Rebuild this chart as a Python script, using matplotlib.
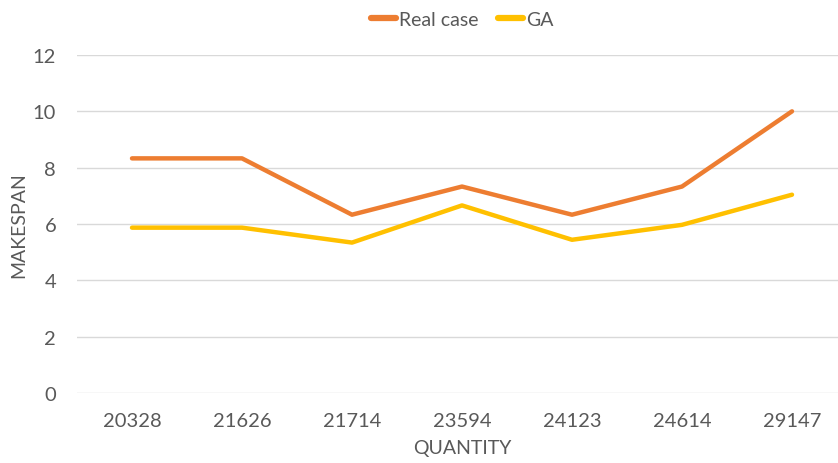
import matplotlib.pyplot as plt

quantity = ['20328', '21626', '21714', '23594', '24123', '24614', '29147']
real_case = [8.33, 8.33, 6.33, 7.33, 6.33, 7.33, 10.0]
ga = [5.87, 5.87, 5.34, 6.66, 5.44, 5.97, 7.04]

plt.rcParams['font.family'] = ['Lato', 'DejaVu Sans']

fig = plt.figure(figsize=(8.38, 4.64), dpi=100)
ax = fig.add_axes([77 / 838, 1 - 394 / 464, 770 / 838, 338 / 464])

x = range(len(quantity))
ax.plot(x, real_case, color='#ED7D31', linewidth=3.2, label='Real case', solid_capstyle='round')
ax.plot(x, ga, color='#FFC000', linewidth=3.2, label='GA', solid_capstyle='round')

ax.set_xlim(-0.5, len(quantity) - 0.5)
ax.set_ylim(0, 12)
ax.set_yticks(range(0, 13, 2))
ax.set_xticks(list(x))
ax.set_xticklabels(quantity)
ax.tick_params(axis='both', length=0, labelsize=14.5, colors='#595959')
ax.tick_params(axis='y', pad=15)
ax.tick_params(axis='x', pad=14)
ax.grid(axis='y', color='#D9D9D9', linewidth=1)
ax.set_axisbelow(True)
for s in ax.spines.values():
    s.set_visible(False)

ax.set_xlabel('QUANTITY', fontsize=14, color='#595959')
ax.xaxis.set_label_coords(0.5, -0.137)
ax.set_ylabel('MAKESPAN', fontsize=14, color='#595959')
ax.yaxis.set_label_coords(-0.064, 0.5)

fig.legend(loc='center', bbox_to_anchor=(462 / 838, 1 - 20 / 464), ncol=2, frameon=False,
           fontsize=14, handlelength=1.3, handletextpad=0.15, columnspacing=1.0,
           labelcolor='#595959')
for h in fig.legends[0].get_lines():
    h.set_linewidth(4.5)

plt.savefig('out.png', dpi=100)
